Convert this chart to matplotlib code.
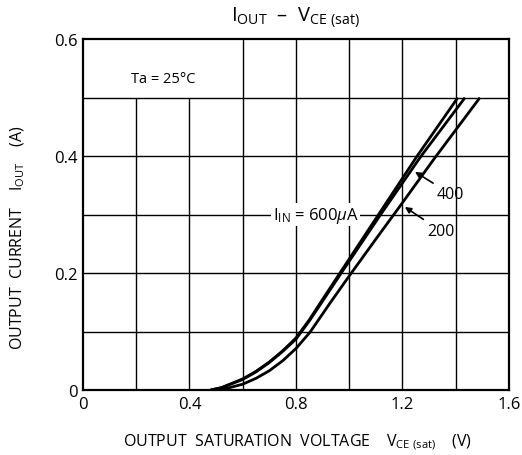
import matplotlib
matplotlib.use("Agg")
import matplotlib.pyplot as plt

plt.rcParams['font.family'] = ['Open Sans', 'DejaVu Sans']
plt.rcParams['mathtext.fontset'] = 'custom'
plt.rcParams['mathtext.rm'] = 'Open Sans'
plt.rcParams['mathtext.it'] = 'Open Sans:italic'

# curves: V_CE(sat) in V, I_OUT in A
v_600 = [0.48, 0.52, 0.60, 0.65, 0.70, 0.75, 0.80, 0.85, 0.90, 0.965, 1.11, 1.255, 1.408]
i_600 = [0.0, 0.004, 0.019, 0.032, 0.048, 0.067, 0.089, 0.120, 0.155, 0.200, 0.300, 0.400, 0.500]

v_400 = [0.48, 0.52, 0.60, 0.65, 0.70, 0.75, 0.80, 0.85, 0.90, 0.97, 1.118, 1.27, 1.435]
i_400 = [0.0, 0.004, 0.018, 0.031, 0.047, 0.066, 0.087, 0.118, 0.152, 0.200, 0.300, 0.400, 0.500]

v_200 = [0.48, 0.55, 0.60, 0.65, 0.70, 0.75, 0.80, 0.853, 0.93, 1.0, 1.10, 1.19, 1.32, 1.491]
i_200 = [0.0, 0.004, 0.010, 0.020, 0.033, 0.050, 0.071, 0.099, 0.150, 0.195, 0.258, 0.314, 0.396, 0.500]

x_ticks = [0, 0.4, 0.8, 1.2, 1.6]
x_ticklabels = ['0', '0.4', '0.8', '1.2', '1.6']
y_ticks = [0, 0.2, 0.4, 0.6]
y_ticklabels = ['0', '0.2', '0.4', '0.6']
grid_x = [0.2, 0.4, 0.6, 0.8, 1.0, 1.2, 1.4]
grid_y = [0.1, 0.2, 0.3, 0.4, 0.5]

fig = plt.figure(figsize=(5.22, 4.56), dpi=100)
ax = fig.add_axes([0.159, 0.1425, 0.816, 0.7695])

# grid: the box for Ta = 25°C has no vertical lines
for gx in grid_x:
    top = 0.5 if gx < 0.6 else 0.6
    ax.vlines(gx, 0, top, color='k', lw=1.0, zorder=1)
ax.hlines(grid_y, 0, 1.6, color='k', lw=1.0, zorder=1)

for v, i in [(v_600, i_600), (v_400, i_400), (v_200, i_200)]:
    ax.plot(v, i, color='k', lw=2.0, solid_capstyle='butt', zorder=3)

ax.set_xlim(0, 1.6)
ax.set_ylim(0, 0.6)
ax.set_xticks(x_ticks)
ax.set_xticklabels(x_ticklabels)
ax.set_yticks(y_ticks)
ax.set_yticklabels(y_ticklabels)
ax.tick_params(length=0, labelsize=12, pad=4)
for s in ax.spines.values():
    s.set_linewidth(1.6)

ax.text(0.3, 0.532, 'Ta = 25°C', ha='center', va='center', fontsize=10.5)
ax.text(0.712, 0.3, r'I$_{\mathrm{IN}}$ = 600$\mu$A', ha='left', va='center',
        fontsize=12, zorder=4,
        bbox=dict(facecolor='white', edgecolor='none', pad=1))

arrow = dict(arrowstyle='-|>', color='k', lw=1.2, mutation_scale=9,
             shrinkA=1, shrinkB=0)
ax.annotate('400', xy=(1.247, 0.373), xytext=(1.33, 0.335), ha='left',
            va='center', fontsize=11.5, arrowprops=arrow)
ax.annotate('200', xy=(1.209, 0.313), xytext=(1.292, 0.272), ha='left',
            va='center', fontsize=11.5, arrowprops=arrow)

fig.text(0.565, 0.96, r'I$_{\mathrm{OUT}}$  –  V$_{\mathrm{CE\ (sat)}}$',
         ha='center', va='center', fontsize=14.5)
fig.text(0.57, 0.03, r'OUTPUT  SATURATION  VOLTAGE    V$_{\mathrm{CE\ (sat)}}$    (V)',
         ha='center', va='center', fontsize=11.5)
fig.text(0.035, 0.48, r'OUTPUT  CURRENT    I$_{\mathrm{OUT}}$    (A)',
         ha='center', va='center', rotation=90, fontsize=11.5)

fig.savefig('out.png', dpi=100)
